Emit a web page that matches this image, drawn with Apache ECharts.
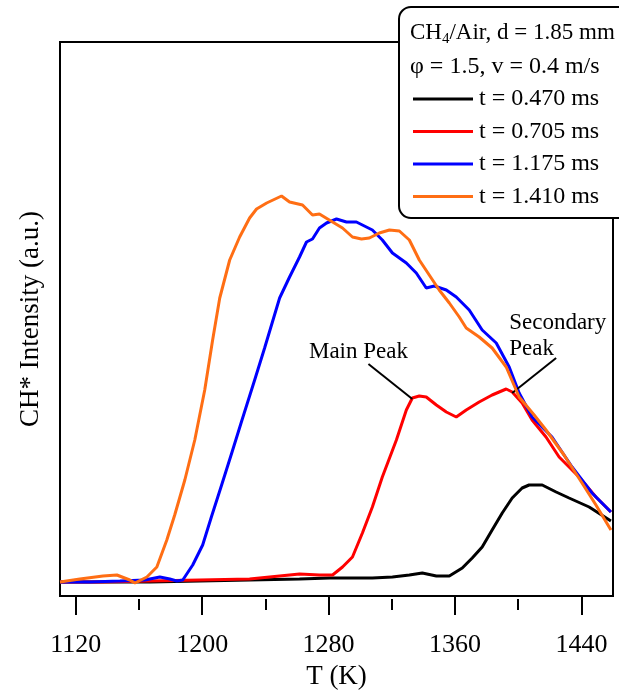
<!DOCTYPE html>
<html><head><meta charset="utf-8">
<script src="https://cdn.jsdelivr.net/npm/echarts@6/dist/echarts.min.js"></script>
<style>html,body{margin:0;padding:0;background:#fff}#c{width:619px;height:692px}</style>
</head><body><div id="c"></div>
<script>
const FONT = '"Liberation Serif", "Times New Roman", serif';

const seriesNames = ['t = 0.470 ms', 't = 0.705 ms', 't = 1.175 ms', 't = 1.410 ms'];
const seriesColors = ['#000000', '#ff0000', '#0000ff', '#ff6e14'];

const tempBlack = [1110,1135.3,1166.9,1198.4,1230.0,1261.6,1280.6,1307.7,1320.4,1331.1,1339.3,1348.2,1356.4,1364.6,1370.9,1377.2,1383.5,1389.9,1396.2,1402.5,1406.9,1415.2,1424.0,1432.2,1444.9,1458.7];
const intBlack  = [14,14,14,15,16,17,18,18,19,21,23,20,20,28,38,49,66,83,98,108,111,111,104,98,89,75];

const tempRed = [1110,1135.3,1166.9,1198.4,1230.0,1249.0,1261.6,1274.2,1282.5,1288.8,1295.1,1301.4,1307.7,1314.0,1322.9,1329.2,1333.0,1337.4,1341.8,1348.2,1354.5,1360.8,1367.1,1375.3,1383.5,1392.4,1396.2,1402.5,1408.8,1417.6,1425.9,1438.5,1449.2,1458.7];
const intRed  = [14,14,15,16,17,20,22,21,21,29,39,63,89,119,156,186,198,200,199,191,184,179,186,194,201,207,204,193,176,159,139,119,99,84];

const tempBlue = [1110,1129.0,1147.9,1163.7,1173.2,1179.5,1183.9,1187.7,1194.0,1200.3,1206.0,1212.3,1218.7,1225.0,1233.2,1239.5,1249.0,1255.3,1261.6,1266.0,1269.8,1274.2,1278.7,1285.0,1291.3,1297.6,1301.4,1307.7,1314.0,1320.4,1329.2,1335.5,1341.8,1346.9,1354.5,1360.8,1369.0,1377.2,1386.1,1394.3,1400.6,1408.8,1421.4,1434.1,1446.7,1458.7];
const intBlue  = [14,14,15,16,19,17,15,16,31,51,80,111,143,175,216,248,298,319,339,354,357,368,373,377,374,374,371,366,356,343,333,323,308,310,306,299,286,266,253,229,203,179,159,129,103,84];

const tempOrange = [1110,1122.6,1137.2,1146.0,1154.2,1157.4,1165.0,1171.3,1177.6,1182.6,1189.0,1195.3,1201.6,1206.6,1211.1,1217.4,1223.7,1230.0,1234.4,1240.8,1250.2,1255.3,1263.5,1269.8,1274.2,1282.5,1288.8,1295.1,1300.8,1305.8,1312.1,1318.5,1324.8,1331.1,1337.4,1343.7,1350.0,1356.4,1362.7,1367.1,1375.3,1383.5,1392.4,1400.6,1410.1,1417.6,1429.0,1440.4,1449.2,1458.7];
const intOrange  = [14,17,20,21,16,13,19,29,56,81,116,156,206,256,298,336,359,378,387,393,400,394,391,381,382,374,368,359,357,358,363,366,365,356,336,321,306,293,279,268,259,248,229,199,181,166,141,113,91,66];

const majorTicks = [1120, 1200, 1280, 1360, 1440];
const minorTicks = [1160, 1240, 1320, 1400];

// annotation anchors (data coordinates)
const mainPeakLine = [[1305.2, 232], [1333.0, 197]];
const secPeakLine = [[1424.0, 238], [1396.2, 203]];
const mainPeakText = [1298.9, 244];
const secPeakText = [1394.3, 286];

const allTemps = [tempBlack, tempRed, tempBlue, tempOrange];
const allInts = [intBlack, intRed, intBlue, intOrange];

const zip = (a, b) => a.map((v, i) => [v, b[i]]);

const chart = echarts.init(document.getElementById('c'), null, {renderer: 'canvas'});

const series = seriesNames.map((n, k) => ({
  name: n, type: 'line', data: zip(allTemps[k], allInts[k]),
  symbol: 'none', smooth: false, xAxisIndex: 0, yAxisIndex: 0,
  lineStyle: {color: seriesColors[k], width: 3}, itemStyle: {color: seriesColors[k]},
  z: 2 + k
}));
series.push({
  type: 'line', data: [], xAxisIndex: 0, yAxisIndex: 0,
  markLine: {
    silent: true, symbol: ['none', 'none'], label: {show: false},
    lineStyle: {color: '#000', width: 2, type: 'solid'},
    data: [
      [{coord: mainPeakLine[0]}, {coord: mainPeakLine[1]}],
      [{coord: secPeakLine[0]}, {coord: secPeakLine[1]}]
    ]
  }
});

const xBase = {
  type: 'value', min: 1110, max: 1460, position: 'bottom', offset: 3,
  axisLine: {show: false}, splitLine: {show: false}
};

const headerGraphics = [
  {type: 'rect', z: 15, shape: {x: 399, y: 7, width: 260, height: 211, r: 12},
   style: {fill: '#fff', stroke: '#000', lineWidth: 2}},
  {type: 'text', z: 21, x: 410, y: 33,
   style: {text: '{a|CH}{s|4}{a|/Air, d = 1.85 mm}', verticalAlign: 'middle', fill: '#000',
     rich: {a: {fontFamily: FONT, fontSize: 23, fill: '#000'}, s: {fontFamily: FONT, fontSize: 15, fill: '#000', padding: [12, 0, 0, 0]}}}},
  {type: 'text', z: 21, x: 410, y: 67,
   style: {text: 'φ = 1.5, v = 0.4 m/s', verticalAlign: 'middle', fontFamily: FONT, fontSize: 24, fill: '#000'}}
];

chart.setOption({
  animation: false,
  backgroundColor: '#fff',
  grid: {left: 60, right: 6, top: 42, bottom: 96, show: true, borderColor: '#000', borderWidth: 2,
         backgroundColor: 'transparent', z: 1, containLabel: false, outerBoundsMode: 'none'},
  xAxis: [
    Object.assign({}, xBase, {
      name: 'T (K)', nameLocation: 'middle', nameGap: 64,
      nameTextStyle: {fontFamily: FONT, fontSize: 27, color: '#000'},
      axisTick: {show: true, length: 19, lineStyle: {color: '#000', width: 2}, customValues: majorTicks},
      axisLabel: {show: true, margin: 33, fontFamily: FONT, fontSize: 26, color: '#000', customValues: majorTicks,
                  formatter: v => String(v)}
    }),
    Object.assign({}, xBase, {
      axisTick: {show: true, length: 11, lineStyle: {color: '#000', width: 2}, customValues: minorTicks},
      axisLabel: {show: false}
    })
  ],
  yAxis: {
    type: 'value', min: 0, max: 554,
    axisLine: {show: false}, axisTick: {show: false}, axisLabel: {show: false}, splitLine: {show: false},
    name: 'CH* Intensity (a.u.)', nameLocation: 'middle', nameGap: 16,
    nameTextStyle: {fontFamily: FONT, fontSize: 27, color: '#000'}
  },
  legend: {
    data: seriesNames, orient: 'vertical', left: 408, top: 82, itemGap: 8.5,
    itemWidth: 60, itemHeight: 3, icon: 'rect', z: 20,
    textStyle: {fontFamily: FONT, fontSize: 24, lineHeight: 24, color: '#000', padding: [0, 0, 0, 1]},
    selectedMode: false
  },
  graphic: headerGraphics,
  series: series
});

// annotation texts placed through the axis scale
const pMain = chart.convertToPixel({gridIndex: 0}, mainPeakText);
const pSec = chart.convertToPixel({gridIndex: 0}, secPeakText);
chart.setOption({
  graphic: headerGraphics.concat([
    {type: 'text', z: 21, x: pMain[0], y: pMain[1],
     style: {text: 'Main Peak', align: 'center', verticalAlign: 'middle', fontFamily: FONT, fontSize: 23, fill: '#000'}},
    {type: 'text', z: 21, x: pSec[0], y: pSec[1],
     style: {text: 'Secondary\nPeak', align: 'left', verticalAlign: 'top', fontFamily: FONT, fontSize: 23, lineHeight: 26, fill: '#000'}}
  ])
});
</script></body></html>
